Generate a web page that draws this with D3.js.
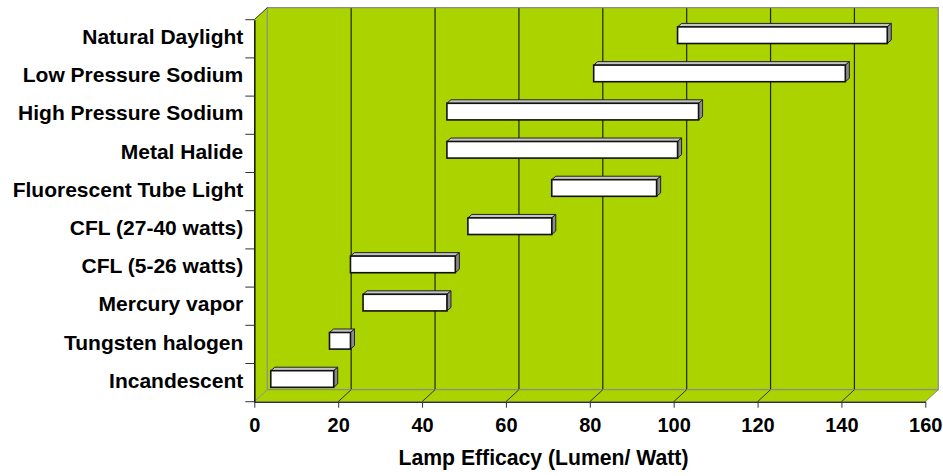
<!DOCTYPE html>
<html>
<head>
<meta charset="utf-8">
<script src="https://cdn.jsdelivr.net/npm/d3@7"></script>
<style>
  html, body { margin: 0; padding: 0; background: #fff; }
  svg { display: block; font-family: "Liberation Sans", Arial, sans-serif; font-weight: bold; }
</style>
</head>
<body>
<svg id="chart" width="943" height="476"></svg>
<script>
// Lamp types, bottom to top, with their efficacy range (lumen per watt)
const lamps = ["Incandescent", "Tungsten halogen", "Mercury vapor", "CFL (5-26 watts)",
  "CFL (27-40 watts)", "Fluorescent Tube Light", "Metal Halide",
  "High Pressure Sodium", "Low Pressure Sodium", "Natural Daylight"];
const lowEfficacy  = [3, 17, 25, 22, 50, 70, 45, 45, 80, 100];
const highEfficacy = [18, 22, 45, 47, 70, 95, 100, 105, 140, 150];
const xTicks = [0, 20, 40, 60, 80, 100, 120, 140, 160];
const axisTitle = "Lamp Efficacy (Lumen/ Watt)";

const svg = d3.select("#chart");

// front plane of the 3-D box and its depth offset
const pL = 254.3, pR = 925.3, pT = 19.7, pB = 401.7;
const DX = 13, DY = -12;

const x = d3.scaleLinear().domain([0, 160]).range([pL, pR]);
const y = d3.scaleBand().domain(lamps).range([pB, pT]);

const green = "#AAD300";
const wallEdge = "#8c8c8c";

// walls and floor
const poly = pts => pts.map(p => p.join(",")).join(" ");
svg.append("polygon").attr("fill", green)
  .attr("points", poly([[pL + DX, pT + DY], [pR + DX, pT + DY], [pR + DX, pB + DY], [pL + DX, pB + DY]]));
svg.append("polygon").attr("fill", green)
  .attr("points", poly([[pL, pT], [pL + DX, pT + DY], [pL + DX, pB + DY], [pL, pB]]));
svg.append("polygon").attr("fill", green)
  .attr("points", poly([[pL, pB], [pL + DX, pB + DY], [pR + DX, pB + DY], [pR, pB]]));

// back wall gridlines
svg.append("g").selectAll("line").data(xTicks.filter(d => d > 0 && d < 160)).join("line")
  .attr("x1", d => x(d) + DX).attr("x2", d => x(d) + DX)
  .attr("y1", pT + DY).attr("y2", pB + DY)
  .attr("stroke", "#1e2600").attr("stroke-width", 1.2);

// wall edges
svg.append("path").attr("fill", "none").attr("stroke", wallEdge).attr("stroke-width", 1.2)
  .attr("d", `M${pL + DX},${pB + DY}V${pT + DY}H${pR + DX}V${pB + DY}H${pL + DX}`);

// floor depth lines at each tick
svg.append("g").selectAll("line").data(xTicks).join("line")
  .attr("x1", d => x(d)).attr("y1", pB)
  .attr("x2", d => x(d) + DX).attr("y2", pB + DY)
  .attr("stroke", d => (d === 0 || d === 160) ? wallEdge : "#333").attr("stroke-width", 1);
svg.append("line").attr("x1", pL).attr("y1", pT).attr("x2", pL + DX).attr("y2", pT + DY)
  .attr("stroke", "#333").attr("stroke-width", 1);

// floating 3-D bars
const bandH = y.bandwidth();
const barH = bandH * 0.435;
const fX = 0.3 * DX, fY = 0.3 * DY;     // front face depth position
const dX = 0.31 * DX, dY = 0.29 * DY;   // bar depth

const bars = svg.append("g").selectAll("g").data(lamps.map((name, i) => ({
  name, lo: lowEfficacy[i], hi: highEfficacy[i]
}))).join("g");

bars.each(function (d) {
  const g = d3.select(this);
  const x0 = x(d.lo) + fX, x1 = x(d.hi) + fX;
  const y0 = y(d.name) + bandH / 2 - barH / 2 + fY, y1 = y0 + barH;
  g.append("polygon").attr("fill", "#c4c4c4").attr("stroke", "#222").attr("stroke-width", 1)
    .attr("stroke-linejoin", "round")
    .attr("points", poly([[x0, y0], [x0 + dX, y0 + dY], [x1 + dX, y0 + dY], [x1, y0]]));
  g.append("polygon").attr("fill", "#8a8a8a").attr("stroke", "#222").attr("stroke-width", 1)
    .attr("stroke-linejoin", "round")
    .attr("points", poly([[x1, y0], [x1 + dX, y0 + dY], [x1 + dX, y1 + dY], [x1, y1]]));
  g.append("rect").attr("x", x0).attr("y", y0).attr("width", x1 - x0).attr("height", barH)
    .attr("fill", "#fff").attr("stroke", "#111").attr("stroke-width", 1.6);
});

// axes
const xAxis = svg.append("g").attr("transform", `translate(0,${pB})`)
  .call(d3.axisBottom(x).tickValues(xTicks).tickSize(6).tickSizeOuter(0).tickPadding(10));
xAxis.select(".domain").attr("stroke", "#333").attr("stroke-width", 1.5);
xAxis.selectAll(".tick line").attr("stroke", "#333");
xAxis.selectAll(".tick text").attr("font-size", 20).attr("font-weight", "bold")
  .attr("font-family", "Liberation Sans, Arial, sans-serif").attr("fill", "#000");

const yAxis = svg.append("g").attr("transform", `translate(${pL},0)`)
  .call(d3.axisLeft(y).tickSize(0).tickPadding(11));
yAxis.select(".domain").attr("stroke", "#111").attr("stroke-width", 1.5);
yAxis.selectAll(".tick text").attr("font-size", 21).attr("font-weight", "bold")
  .attr("font-family", "Liberation Sans, Arial, sans-serif").attr("fill", "#000")
  .attr("dy", "0.25em");

// category boundary ticks
const bounds = lamps.map(d => y(d)).concat([pB]);
svg.append("g").selectAll("line").data(bounds).join("line")
  .attr("x1", pL - 9).attr("x2", pL).attr("y1", d => d).attr("y2", d => d)
  .attr("stroke", "#333").attr("stroke-width", 1);

svg.append("text").attr("x", 543.5).attr("y", 465).attr("text-anchor", "middle")
  .attr("font-size", 21.2).attr("fill", "#000").text(axisTitle);
</script>
</body>
</html>
